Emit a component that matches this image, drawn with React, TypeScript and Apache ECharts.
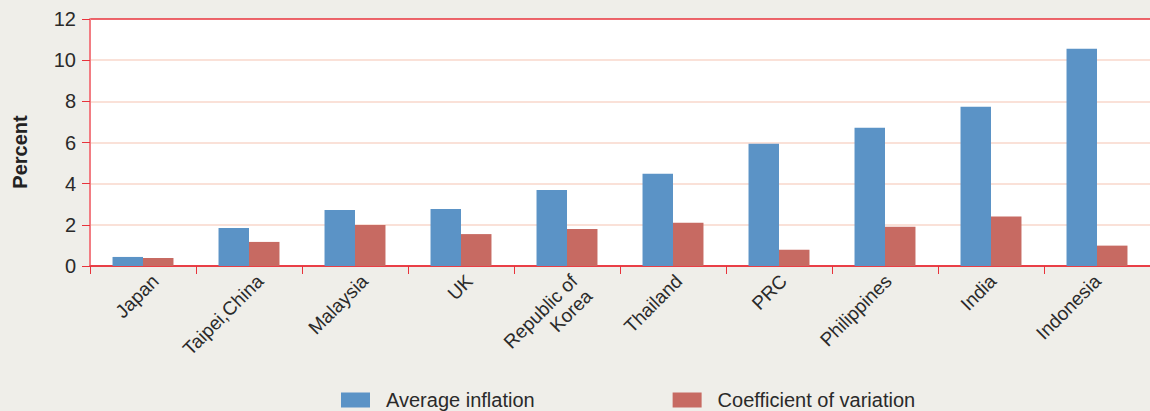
import React, { useEffect, useRef } from "react";
import * as echarts from "echarts";

const categories = ["Japan", "Taipei,China", "Malaysia", "UK", "Republic of\nKorea", "Thailand", "PRC", "Philippines", "India", "Indonesia"];
const averageInflation = [0.44, 1.85, 2.72, 2.77, 3.69, 4.48, 5.94, 6.72, 7.74, 10.56];
const coefficientOfVariation = [0.39, 1.17, 1.99, 1.55, 1.8, 2.1, 0.79, 1.91, 2.4, 0.99];
const yTicks = { min: 0, max: 12, interval: 2 };
const seriesNames = ["Average inflation", "Coefficient of variation"];
const yTitle = "Percent";

const FONT = "'Liberation Sans', Arial, sans-serif";
const BLUE = "#5b93c6";
const RED = "#c76a62";
const AXIS_RED = "#e8333b";
const AXIS_PINK = "#f27c82";
const GRID_PINK = "#f9d7cb";

export default function App() {
  const ref = useRef<HTMLDivElement>(null);
  useEffect(() => {
    const chart = echarts.init(ref.current!, null, { renderer: "svg" });
    chart.setOption({
      animation: false,
      backgroundColor: "#efeee9",
      textStyle: { fontFamily: FONT },
      grid: [
        {
          left: 90,
          width: 1060,
          top: 19,
          bottom: 145,
          show: true,
          backgroundColor: "#ffffff",
          borderWidth: 0,
        },
        { left: 103, width: 1060, top: 19, bottom: 145, show: false },
      ],
      graphic: [
        {
          type: "text",
          x: 20,
          y: 152,
          rotation: Math.PI / 2,
          style: {
            text: yTitle,
            font: `bold 20px ${FONT}`,
            fill: "#222",
            align: "center",
            verticalAlign: "middle",
          },
        },
      ],
      legend: {
        top: 390,
        left: 341,
        padding: 0,
        itemWidth: 29,
        itemHeight: 15,
        itemGap: 138,
        icon: "rect",
        textStyle: { fontFamily: FONT, fontSize: 20, color: "#2a2a2a", padding: [0, 0, 0, 11] },
        data: seriesNames,
      },
      xAxis: [
        {
          type: "category",
          gridIndex: 0,
          data: categories,
          axisLine: { lineStyle: { color: AXIS_RED, width: 1.5 } },
          axisTick: { show: true, length: 8, lineStyle: { color: AXIS_RED } },
          axisLabel: { show: false },
        },
        {
          type: "category",
          gridIndex: 1,
          data: categories,
          axisLine: { show: false },
          axisTick: { show: false },
          axisLabel: {
            rotate: 45,
            fontFamily: FONT,
            fontSize: 19,
            color: "#2a2a2a",
            margin: 12,
            align: "right",
            lineHeight: 21,
            formatter: (v: string) => (v.indexOf("\n") >= 0 ? "\n" + v : v),
          },
        },
      ],
      yAxis: [
        {
          type: "value",
          gridIndex: 0,
          min: yTicks.min,
          max: yTicks.max,
          interval: yTicks.interval,
          axisLine: { show: true, lineStyle: { color: AXIS_PINK, width: 2 } },
          axisTick: { show: true, length: 8, lineStyle: { color: AXIS_RED } },
          axisLabel: { fontFamily: FONT, fontSize: 20, color: "#2a2a2a", margin: 14 },
          splitLine: {
            show: true,
            lineStyle: {
              color: [AXIS_RED, GRID_PINK, GRID_PINK, GRID_PINK, GRID_PINK, GRID_PINK, AXIS_RED],
              width: 1.5,
            },
          },
        },
        {
          type: "value",
          gridIndex: 1,
          min: yTicks.min,
          max: yTicks.max,
          interval: yTicks.interval,
          show: false,
        },
      ],
      series: [
        {
          name: seriesNames[0],
          type: "bar",
          data: averageInflation,
          itemStyle: { color: BLUE },
          barGap: "0%",
          barCategoryGap: "42.5%",
        },
        {
          name: seriesNames[1],
          type: "bar",
          data: coefficientOfVariation,
          itemStyle: { color: RED },
          barGap: "0%",
          barCategoryGap: "42.5%",
        },
      ],
    });
    return () => chart.dispose();
  }, []);
  return <div ref={ref} style={{ position: "fixed", left: 0, top: 0, width: 1150, height: 411 }} />;
}
